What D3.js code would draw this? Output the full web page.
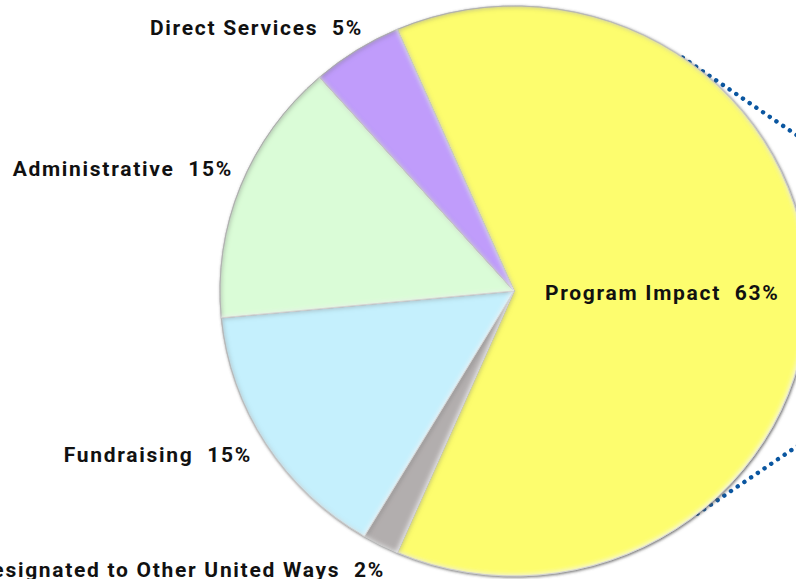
<!DOCTYPE html>
<html><head><meta charset="utf-8">
<script src="https://cdn.jsdelivr.net/npm/d3@7"></script>
<style>
html,body{margin:0;padding:0;background:#fff;}
svg{display:block;}
text{font-family:Roboto,"Noto Sans",sans-serif;font-weight:700;font-size:21px;letter-spacing:1.7px;fill:#111;white-space:pre;}
</style></head>
<body>
<svg id="chart" width="796" height="579"></svg>
<script>
const categories = ["Program Impact","Designated to Other United Ways","Fundraising","Administrative","Direct Services"];
const values = [63, 2, 15, 15, 5];
const colors = ["#FDFD6E","#B2AEAE","#C5F0FD","#DAFCD7","#C09CFB"];
const labelText = ["Program Impact  63%","Designated to Other United Ways  2%","Fundraising  15%","Administrative  15%","Direct Services  5%"];

const W = 796, H = 579;
const cx = 514, cy = 291, RY = 285, RX = 294;
const sx = RX / RY;
const startDeg = -23.4;

const svg = d3.select("#chart");
const defs = svg.append("defs");

// inner bevel filter
const f = defs.append("filter").attr("id","bevel").attr("x","-5%").attr("y","-5%").attr("width","110%").attr("height","110%");
f.append("feComponentTransfer").attr("in","SourceAlpha").attr("result","inv")
  .append("feFuncA").attr("type","table").attr("tableValues","1 0");
f.append("feGaussianBlur").attr("in","inv").attr("stdDeviation",2.4).attr("result","blurInv");
f.append("feOffset").attr("in","blurInv").attr("dx",1.4).attr("dy",1.4).attr("result","offDark");
f.append("feFlood").attr("flood-color","#333").attr("flood-opacity",0.7).attr("result","darkCol");
f.append("feComposite").attr("in","darkCol").attr("in2","offDark").attr("operator","in").attr("result","darkSh");
f.append("feComposite").attr("in","darkSh").attr("in2","SourceAlpha").attr("operator","in").attr("result","darkIn");
f.append("feOffset").attr("in","blurInv").attr("dx",-1.4).attr("dy",-1.4).attr("result","offLight");
f.append("feFlood").attr("flood-color","#fff").attr("flood-opacity",0.8).attr("result","lightCol");
f.append("feComposite").attr("in","lightCol").attr("in2","offLight").attr("operator","in").attr("result","lightSh");
f.append("feComposite").attr("in","lightSh").attr("in2","SourceAlpha").attr("operator","in").attr("result","lightIn");
const fm = f.append("feMerge");
fm.append("feMergeNode").attr("in","SourceGraphic");
fm.append("feMergeNode").attr("in","darkIn");
fm.append("feMergeNode").attr("in","lightIn");

// outer shadow filter
const fs = defs.append("filter").attr("id","outer").attr("x","-5%").attr("y","-5%").attr("width","110%").attr("height","110%");
fs.append("feGaussianBlur").attr("in","SourceAlpha").attr("stdDeviation",1.5).attr("result","b");
fs.append("feOffset").attr("in","b").attr("dx",1.3).attr("dy",1.3).attr("result","o");
fs.append("feFlood").attr("flood-color","#555").attr("flood-opacity",0.85).attr("result","c");
fs.append("feComposite").attr("in","c").attr("in2","o").attr("operator","in").attr("result","s");
const fsm = fs.append("feMerge");
fsm.append("feMergeNode").attr("in","s");
fsm.append("feMergeNode").attr("in","SourceGraphic");

// dotted connector lines (drawn behind the pie), anchored on the pie rim
const rad = d => d * Math.PI / 180;
const connectors = [
  {deg: 35, slope: 0.68},
  {deg: 141.4, slope: -0.677}
];
const gLines = svg.append("g");
connectors.forEach(c => {
  const xr = cx + RX * Math.sin(rad(c.deg));
  const yr = cy - RY * Math.cos(rad(c.deg));
  const x1 = W + 10, y1 = yr + (x1 - xr) * c.slope;
  gLines.append("line").attr("x1",xr).attr("y1",yr).attr("x2",x1).attr("y2",y1)
    .attr("stroke","#0A56A0").attr("stroke-width",4.4).attr("stroke-linecap","round")
    .attr("stroke-dasharray","0.1 8.0");
});

const pie = d3.pie().sort(null).value(d => d)
  .startAngle(rad(startDeg)).endAngle(rad(startDeg) + 2*Math.PI);
const arcs = pie(values);
const arc = d3.arc().innerRadius(0).outerRadius(RY);

const gOuter = svg.append("g").attr("filter","url(#outer)");
const gPie = gOuter.append("g").attr("transform",`translate(${cx},${cy}) scale(${sx},1)`);
gPie.selectAll("path").data(arcs).join("path")
  .attr("d", arc)
  .attr("fill", (d,i) => colors[i])
  .attr("stroke","#b0b0b0").attr("stroke-width",0.9)
  .attr("filter","url(#bevel)");

// labels
const labelPos = [
  {x:545, y:300, anchor:"start"},
  {x:385, y:577, anchor:"end"},
  {x:252, y:462, anchor:"end"},
  {x:233, y:176, anchor:"end"},
  {x:363, y:35, anchor:"end"}
];
svg.append("g").selectAll("text").data(labelText).join("text")
  .attr("x",(d,i)=>labelPos[i].x).attr("y",(d,i)=>labelPos[i].y)
  .attr("text-anchor",(d,i)=>labelPos[i].anchor)
  .text(d=>d);
</script>
</body></html>
